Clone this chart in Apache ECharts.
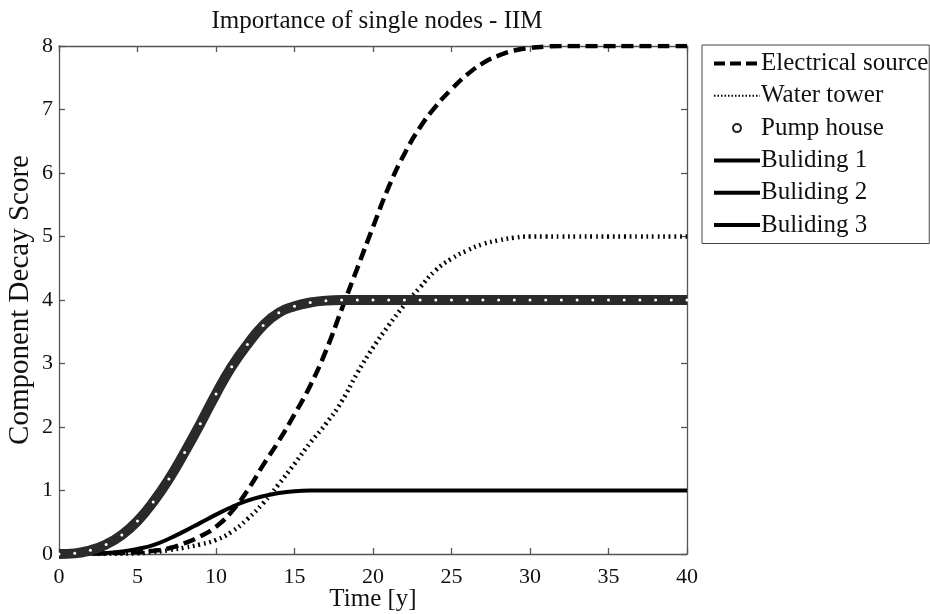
<!DOCTYPE html>
<html><head><meta charset="utf-8">
<script src="https://cdn.jsdelivr.net/npm/echarts@6/dist/echarts.min.js"></script>
<style>html,body{margin:0;padding:0;background:#fff}#c{width:930px;height:614px}</style>
</head><body><div id="c"></div>
<script>
const titleText = 'Importance of single nodes - IIM';
const xName = 'Time [y]';
const yName = 'Component Decay Score';
const seriesNames = ['Electrical source', 'Water tower', 'Pump house', 'Buliding 1', 'Buliding 2', 'Buliding 3'];
const years = [0,1,2,3,4,5,6,7,8,9,10,11,12,13,14,15,16,17,18,19,20,21,22,23,24,25,26,27,28,29,30,31,32,33,34,35,36,37,38,39,40];
const electrical = [0,0,0.005,0.01,0.02,0.03,0.05,0.09,0.17,0.28,0.43,0.67,1.0,1.4,1.78,2.2,2.65,3.2,3.85,4.5,5.15,5.78,6.3,6.72,7.05,7.32,7.55,7.73,7.85,7.93,7.97,7.99,8,8,8,8,8,8,8,8,8];
const waterTower = [0,0,0,0.003,0.006,0.01,0.03,0.06,0.1,0.15,0.22,0.35,0.55,0.8,1.1,1.42,1.75,2.05,2.4,2.85,3.25,3.6,3.92,4.2,4.47,4.65,4.78,4.88,4.94,4.98,5,5,5,5,5,5,5,5,5,5,5];
const pumpHouse = [0,0.01,0.06,0.15,0.3,0.52,0.82,1.18,1.6,2.05,2.52,2.95,3.3,3.6,3.8,3.9,3.96,3.99,4,4,4,4,4,4,4,4,4,4,4,4,4,4,4,4,4,4,4,4,4,4,4];
const building1 = [0,0,0.005,0.015,0.04,0.08,0.14,0.24,0.36,0.49,0.62,0.74,0.84,0.91,0.96,0.99,1,1,1,1,1,1,1,1,1,1,1,1,1,1,1,1,1,1,1,1,1,1,1,1,1];
const building2 = pumpHouse;
const building3 = pumpHouse;

const pairs = v => years.map((t, i) => [t, v[i]]);
const FONT = '"Liberation Serif", "Times New Roman", serif';
const axisColor = '#555';

const chart = echarts.init(document.getElementById('c'), null, {renderer: 'canvas'});
const baseX = {type: 'value', min: 0, max: 40, interval: 5, splitLine: {show: false}, nameMoveOverlap: false,
  axisLine: {onZero: false, lineStyle: {color: axisColor, width: 1.3}},
  axisTick: {inside: true, length: 6, lineStyle: {color: axisColor, width: 1.3}}};
const baseY = {type: 'value', min: 0, max: 8, interval: 1, splitLine: {show: false}, nameMoveOverlap: false,
  axisLine: {onZero: false, lineStyle: {color: axisColor, width: 1.3}},
  axisTick: {inside: true, length: 6, lineStyle: {color: axisColor, width: 1.3}}};
const hidden = {color: 'rgba(0,0,0,0)', borderColor: 'rgba(0,0,0,0)', borderWidth: 0};

chart.setOption({
  animation: false,
  backgroundColor: '#fff',
  title: {text: titleText, left: 372, textAlign: 'center', top: 4,
    textStyle: {fontFamily: FONT, fontWeight: 'normal', fontSize: 25, color: '#111'}},
  grid: {left: 59, right: 243, top: 46, bottom: 60, containLabel: false, outerBoundsMode: 'none'},
  xAxis: [
    Object.assign({}, baseX, {position: 'bottom', name: xName, nameLocation: 'middle', nameGap: 33,
      nameTextStyle: {fontFamily: FONT, fontSize: 25, color: '#111'},
      axisLabel: {fontFamily: FONT, fontSize: 22, color: '#111', margin: 12}}),
    Object.assign({}, baseX, {position: 'top', axisLabel: {show: false}})
  ],
  yAxis: [
    Object.assign({}, baseY, {position: 'left', name: yName, nameLocation: 'middle', nameGap: 24,
      nameTextStyle: {fontFamily: FONT, fontSize: 29, color: '#111'},
      axisLabel: {fontFamily: FONT, fontSize: 22, color: '#111', margin: 6}}),
    Object.assign({}, baseY, {position: 'right', axisLabel: {show: false}})
  ],
  legend: {
    orient: 'vertical', left: 702, top: 45, itemWidth: 46, itemHeight: 8, itemGap: 7.3,
    padding: [6, 1, 6, 10], borderColor: '#444', borderWidth: 1, backgroundColor: '#fff',
    textStyle: {fontFamily: FONT, fontSize: 25, color: '#111', padding: [0, 0, 0, -4]},
    itemStyle: hidden,
    data: [
      {name: seriesNames[0], lineStyle: {width: 4, type: [11, 5]}},
      {name: seriesNames[1], lineStyle: {width: 2, type: [1.5, 2]}},
      {name: seriesNames[2], icon: 'emptyCircle', itemStyle: {color: '#222', borderColor: '#222', borderWidth: 1.2}},
      {name: seriesNames[3], lineStyle: {width: 4}},
      {name: seriesNames[4], lineStyle: {width: 4}},
      {name: seriesNames[5], lineStyle: {width: 4}}
    ]
  },
  series: [
    {name: seriesNames[4], type: 'line', smooth: true, symbol: 'none', data: pairs(building2),
      lineStyle: {color: '#000', width: 4}, itemStyle: {color: '#000'}, z: 2},
    {name: seriesNames[5], type: 'line', smooth: true, symbol: 'none', data: pairs(building3),
      lineStyle: {color: '#000', width: 4}, itemStyle: {color: '#000'}, z: 2},
    {name: seriesNames[3], type: 'line', smooth: true, symbol: 'none', data: pairs(building1),
      lineStyle: {color: '#000', width: 4}, itemStyle: {color: '#000'}, z: 3},
    {name: seriesNames[1], type: 'line', smooth: true, symbol: 'none', data: pairs(waterTower),
      lineStyle: {color: '#000', width: 4.5, type: [1.8, 3.8]}, itemStyle: {color: '#000'}, z: 4},
    {name: seriesNames[0], type: 'line', smooth: true, symbol: 'none', data: pairs(electrical),
      lineStyle: {color: '#000', width: 4.5, type: [12, 6]}, itemStyle: {color: '#000'}, z: 5},
    {name: seriesNames[2], type: 'line', smooth: true, symbol: 'circle', symbolSize: 3, showAllSymbol: true,
      data: pairs(pumpHouse),
      lineStyle: {color: '#2a2a2a', width: 10}, itemStyle: {color: '#fff', borderWidth: 0}, z: 6}
  ]
});
</script>
</body></html>
